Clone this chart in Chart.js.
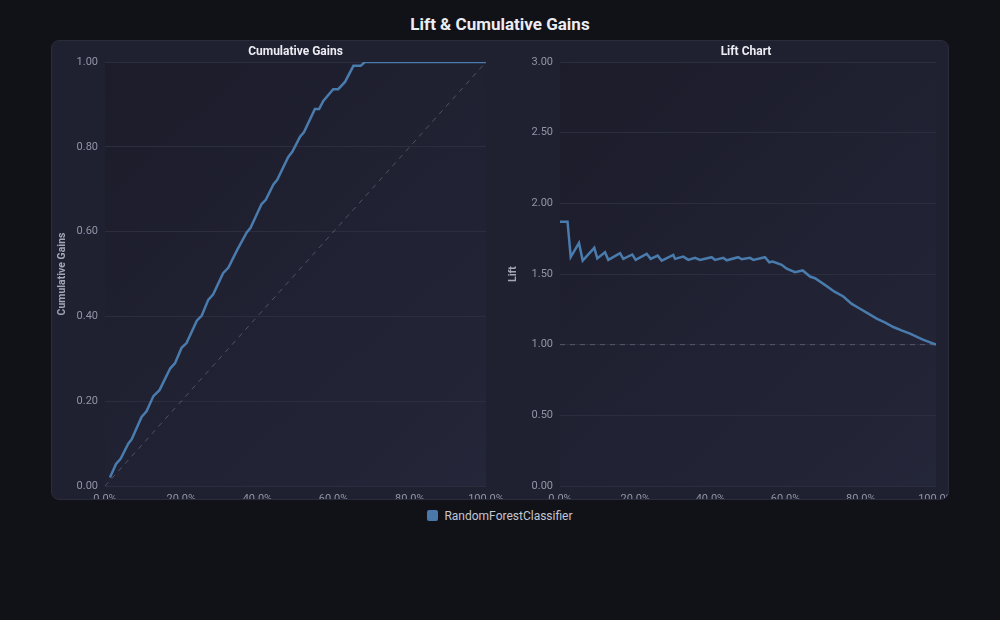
<!DOCTYPE html>
<html>
<head>
<meta charset="utf-8">
<script src="https://cdn.jsdelivr.net/npm/chart.js@4.4.1/dist/chart.umd.min.js"></script>
<style>
  html, body { margin: 0; padding: 0; background: #111218; width: 1000px; height: 620px; overflow: hidden; font-family: Roboto, "Noto Sans", sans-serif; }
  #title { position: absolute; left: 0; width: 1000px; top: 13px; text-align: center; color: #ececf2; font-weight: bold; font-size: 17px; line-height: 22px; }
  #panel { position: absolute; left: 51px; top: 40px; width: 896px; height: 458px; background: #1f2030; border: 1px solid #2a2c3c; border-radius: 8px; overflow: hidden; }
  #c1 { position: absolute; left: -1px; top: 0px; }
  #c2 { position: absolute; left: 450px; top: 0px; }
  #legend { position: absolute; top: 508px; left: 0; width: 1000px; text-align: center; color: #c4c6d2; font-size: 12px; line-height: 16px; }
  #legend .box { display: inline-block; width: 11px; height: 11px; background: #4a78a9; border-radius: 2px; vertical-align: -1px; margin-right: 6px; }
</style>
</head>
<body>
<div id="title">Lift &amp; Cumulative Gains</div>
<div id="panel">
  <canvas id="c1" width="490" height="475"></canvas>
  <canvas id="c2" width="488" height="475"></canvas>
</div>
<div id="legend"><span class="box"></span>RandomForestClassifier</div>
<script>
const seriesName = 'RandomForestClassifier';
// Cumulative gains: x = % of samples, y = fraction of positives captured
const gainsX = [1.3, 2.9, 4.1, 6.1, 7.0, 9.6, 10.9, 12.7, 14.3, 17.1, 18.4, 20.1, 21.4, 24.1, 25.4, 27.1, 28.4, 31.0, 32.4, 34.6, 37.2, 38.2, 41.1, 42.2, 44.2, 45.2, 48.1, 49.2, 51.2, 52.2, 55.1, 56.2, 57.3, 59.9, 61.2, 63.0, 65.2, 67.1, 68.2, 100];
const gainsY = [0.020, 0.052, 0.064, 0.100, 0.110, 0.163, 0.176, 0.212, 0.226, 0.277, 0.290, 0.326, 0.337, 0.390, 0.402, 0.439, 0.452, 0.502, 0.515, 0.555, 0.598, 0.609, 0.665, 0.675, 0.711, 0.722, 0.776, 0.789, 0.824, 0.834, 0.889, 0.889, 0.908, 0.936, 0.936, 0.953, 0.991, 0.991, 1.0, 1.0];
// Lift: x = % of samples, y = lift
const liftX = [0.0, 2.0, 2.85, 5.05, 6.04, 9.12, 9.92, 11.97, 12.85, 15.96, 16.84, 19.23, 20.13, 23.06, 24.12, 25.98, 27.05, 30.13, 30.59, 32.79, 34.12, 35.90, 37.23, 40.35, 41.22, 43.43, 44.34, 47.42, 48.32, 50.53, 51.41, 54.52, 55.67, 56.57, 58.96, 60.29, 62.5, 64.55, 66.49, 67.82, 70.93, 73.0, 75.35, 77.5, 79.79, 82.0, 84.23, 86.5, 88.64, 91.0, 93.09, 96.5, 100];
const liftY = [1.87, 1.87, 1.62, 1.72, 1.595, 1.685, 1.61, 1.654, 1.60, 1.647, 1.607, 1.638, 1.60, 1.643, 1.607, 1.63, 1.595, 1.635, 1.607, 1.623, 1.60, 1.614, 1.60, 1.619, 1.60, 1.614, 1.597, 1.619, 1.604, 1.614, 1.60, 1.619, 1.583, 1.588, 1.565, 1.537, 1.513, 1.525, 1.482, 1.47, 1.414, 1.375, 1.341, 1.29, 1.254, 1.22, 1.184, 1.156, 1.125, 1.099, 1.078, 1.036, 1.0];
const diagX = [0, 100], diagY = [0, 1];
const baseX = [0, 100], baseY = [1, 1];
const xTickValues = [0, 20, 40, 60, 80, 100];
const gainsTickValues = [0, 0.2, 0.4, 0.6, 0.8, 1.0];
const liftTickValues = [0, 0.5, 1.0, 1.5, 2.0, 2.5, 3.0];

const toPts = (xs, ys) => xs.map((x, i) => ({ x: x, y: ys[i] }));
const LINE = '#4a7bad';
const DASH = 'rgba(140,143,165,0.45)';
const GRID = '#2c2e40';
const TICK = '#9295a8';
const FONT = 'Roboto, "Noto Sans", sans-serif';

const areaPlugin = {
  id: 'areaBg',
  beforeDraw(chart, args, opts) {
    const a = chart.chartArea, ctx = chart.ctx;
    const g = ctx.createLinearGradient(a.left, a.top, a.right, a.bottom);
    g.addColorStop(0, '#1c1c2a');
    g.addColorStop(1, '#242639');
    ctx.save();
    ctx.fillStyle = g;
    ctx.fillRect(a.left, a.top, a.right - a.left, a.bottom - a.top);
    ctx.restore();
  },
  afterDraw(chart, args, opts) {
    const a = chart.chartArea, ctx = chart.ctx;
    ctx.save();
    ctx.font = 'bold 12px ' + FONT;
    ctx.fillStyle = '#ececf2';
    ctx.textAlign = 'center';
    ctx.textBaseline = 'middle';
    ctx.fillText(opts.text, (a.left + a.right) / 2 + (opts.dx || 0), 11);
    ctx.restore();
  }
};

function makeChart(id, titleText, yTitle, mainX, mainY, refX, refY, ymax, yTicks, yWidth, padRight, dx) {
  return new Chart(document.getElementById(id), {
    type: 'line',
    data: {
      datasets: [
        { label: seriesName, data: toPts(mainX, mainY), borderColor: LINE, backgroundColor: LINE, borderWidth: 2.5, pointRadius: 0, tension: 0, order: 1 },
        { label: 'ref', data: toPts(refX, refY), borderColor: DASH, borderWidth: 1, borderDash: [5, 5], pointRadius: 0, order: 2 }
      ]
    },
    plugins: [areaPlugin],
    options: {
      responsive: false,
      animation: false,
      devicePixelRatio: 1,
      layout: { padding: { top: 21, right: padRight, left: 0, bottom: 0 } },
      plugins: {
        legend: { display: false },
        title: { display: false },
        tooltip: { enabled: false },
        areaBg: { text: titleText, dx: dx }
      },
      scales: {
        x: {
          type: 'linear', min: 0, max: 100,
          afterBuildTicks: s => { s.ticks = xTickValues.map(v => ({ value: v })); },
          ticks: { color: TICK, font: { family: FONT, size: 11 }, maxRotation: 0, padding: 2, callback: v => v.toFixed(1) + '%' },
          grid: { display: false, drawTicks: true, tickLength: 5 },
          border: { display: false },
          afterFit: s => { s.height = 30; }
        },
        y: {
          type: 'linear', min: 0, max: ymax,
          afterBuildTicks: s => { s.ticks = yTicks.map(v => ({ value: v })); },
          ticks: { color: TICK, font: { family: FONT, size: 11 }, padding: 7, callback: v => v.toFixed(2) },
          grid: { color: GRID, drawTicks: false, lineWidth: 1 },
          border: { display: false },
          title: { display: true, text: yTitle, color: '#a4a7b8', font: { family: FONT, size: 10.5, weight: 'bold' }, padding: { top: 5, bottom: 4 } },
          afterFit: s => { s.width = yWidth; }
        }
      }
    }
  });
}

makeChart('c1', 'Cumulative Gains', 'Cumulative Gains', gainsX, gainsY, diagX, diagY, 1, gainsTickValues, 54, 55, 0);
makeChart('c2', 'Lift Chart', 'Lift', liftX, liftY, baseX, baseY, 3, liftTickValues, 58, 54, -2);
</script>
</body>
</html>
